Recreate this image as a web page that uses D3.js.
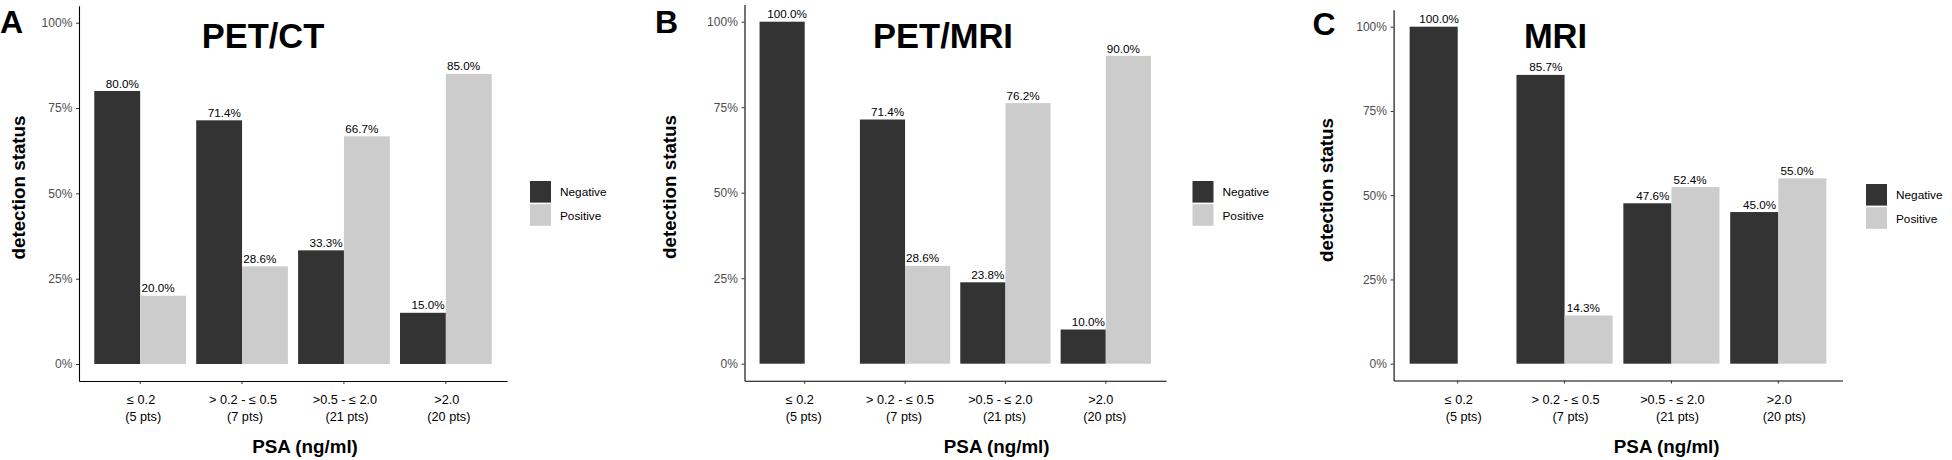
<!DOCTYPE html>
<html><head><meta charset="utf-8">
<script src="https://cdn.jsdelivr.net/npm/d3@7"></script>
<style>body{margin:0;background:#fff;} svg{display:block;font-family:"Liberation Sans",Arial,sans-serif;}</style>
</head><body><svg id="c" width="1952" height="460"></svg>
<script>
// ---- data ----
const categories = ["≤ 0.2", "> 0.2 - ≤ 0.5", ">0.5 - ≤ 2.0", ">2.0"];
const categoryCounts = ["(5 pts)", "(7 pts)", "(21 pts)", "(20 pts)"];
const seriesNames = ["Negative", "Positive"];
const panelLetters = ["A", "B", "C"];
const panelTitles = ["PET/CT", "PET/MRI", "MRI"];
const petctNegative = [80.0, 71.4, 33.3, 15.0];
const petctPositive = [20.0, 28.6, 66.7, 85.0];
const petmriNegative = [100.0, 71.4, 23.8, 10.0];
const petmriPositive = [null, 28.6, 76.2, 90.0];
const mriNegative = [100.0, 85.7, 47.6, 45.0];
const mriPositive = [null, 14.3, 52.4, 55.0];
const yTicks = [0, 25, 50, 75, 100];
const xTitle = "PSA (ng/ml)";
const yTitle = "detection status";

const panelData = [
  [petctNegative, petctPositive],
  [petmriNegative, petmriPositive],
  [mriNegative, mriPositive]
];
const colors = {Negative: "#333333", Positive: "#CCCCCC"};

// ---- layout ----
const layouts = [
  {x0:79, x1:507, yTop:22.7, yZero:364, letterX:0, letterY:33, titleX:263, titleY:48, xtX:305, ytX:25, ytY:187.5, legX:530, legY:181, l1dx:1, l2dx:3},
  {x0:744.5, x1:1166, yTop:21.7, yZero:363.7, letterX:655, letterY:33, titleX:943, titleY:47.7, xtX:996.7, ytX:675.8, ytY:187, legX:1192.5, legY:181, l1dx:-5, l2dx:-1},
  {x0:1393.6, x1:1842.4, yTop:26.7, yZero:363.7, letterX:1312.5, letterY:34.5, titleX:1555.5, titleY:47.7, xtX:1666.7, ytX:1333.3, ytY:190, legX:1866, legY:184, l1dx:1, l2dx:6}
];

const svg = d3.select("#c");

layouts.forEach((L, pi) => {
  const g = svg.append("g");
  const y = d3.scaleLinear().domain([0, 100]).range([L.yZero, L.yTop]);
  const yAxisScale = d3.scaleLinear().domain([-5, 105]).range([y(-5), y(105)]);
  const x = d3.scaleBand().domain(categories).range([L.x0, L.x1]).paddingInner(0).paddingOuter(0.1);
  const step = x.step();
  const xs = d3.scaleBand().domain(seriesNames).range([0.05 * step, 0.95 * step]);
  const yBottom = y(-5);

  // bars
  const rows = [];
  categories.forEach((c, ci) => {
    seriesNames.forEach((s, si) => {
      const v = panelData[pi][si][ci];
      if (v !== null && v !== undefined) rows.push({c, s, si, v});
    });
  });
  g.selectAll("rect.bar").data(rows).join("rect")
    .attr("x", d => x(d.c) + xs(d.s))
    .attr("width", xs.bandwidth())
    .attr("y", d => y(d.v))
    .attr("height", d => y(0) - y(d.v))
    .attr("fill", d => colors[d.s]);

  // value labels (dodged narrower)
  g.selectAll("text.val").data(rows).join("text")
    .attr("x", d => x(d.c) + step / 2 + (d.si === 0 ? -1 : 1) * 0.175 * step)
    .attr("y", d => y(d.v) - 3.4)
    .attr("text-anchor", "middle")
    .attr("font-size", "11.7px")
    .attr("fill", "#000")
    .text(d => d.v.toFixed(1) + "%");

  // y axis
  const yAxis = g.append("g").attr("transform", `translate(${L.x0},0)`)
    .call(d3.axisLeft(yAxisScale).tickValues(yTicks).tickFormat(d => d + "%").tickSize(3).tickSizeOuter(0).tickPadding(3.7));
  yAxis.select(".domain").attr("stroke", "#000").attr("stroke-width", 1.1);
  yAxis.selectAll(".tick line").attr("stroke", "#333");
  yAxis.selectAll(".tick text").attr("font-size", "12px").attr("fill", "#4d4d4d").attr("font-family", null);

  // x axis
  const xAxis = g.append("g").attr("transform", `translate(0,${yBottom})`)
    .call(d3.axisBottom(x).tickSize(3).tickSizeOuter(0).tickFormat(""));
  xAxis.select(".domain").attr("stroke", "#000").attr("stroke-width", 1.1);
  xAxis.selectAll(".tick line").attr("stroke", "#333");
  xAxis.selectAll(".tick text").remove();
  categories.forEach((c, ci) => {
    const cx = x(c) + step / 2;
    g.append("text").attr("x", cx + L.l1dx).attr("y", 404)
      .attr("text-anchor", "middle").attr("font-size", "12.7px").attr("fill", "#000").text(c);
    g.append("text").attr("x", cx + L.l2dx).attr("y", 421)
      .attr("text-anchor", "middle").attr("font-size", "12.7px").attr("fill", "#000").text(categoryCounts[ci]);
  });

  // axis titles
  g.append("text").attr("x", L.xtX).attr("y", 452.5).attr("text-anchor", "middle")
    .attr("font-size", "18.8px").attr("font-weight", "bold").text(xTitle);
  g.append("text").attr("transform", `translate(${L.ytX},${L.ytY}) rotate(-90)`)
    .attr("text-anchor", "middle").attr("font-size", "18.8px").attr("font-weight", "bold").text(yTitle);

  // panel title and letter
  g.append("text").attr("x", L.titleX).attr("y", L.titleY).attr("text-anchor", "middle")
    .attr("font-size", "34.5px").attr("font-weight", "bold").text(panelTitles[pi]);
  g.append("text").attr("x", L.letterX).attr("y", L.letterY)
    .attr("font-size", "32px").attr("font-weight", "bold").text(panelLetters[pi]);

  // legend
  const leg = g.append("g").attr("transform", `translate(${L.legX},${L.legY})`);
  seriesNames.forEach((s, si) => {
    leg.append("rect").attr("x", 0).attr("y", si * 23.2).attr("width", 21).attr("height", 21.6).attr("fill", colors[s]);
    leg.append("text").attr("x", 30).attr("y", si * 23.2 + 15.3).attr("font-size", "11.8px").text(s);
  });
});
</script></body></html>
